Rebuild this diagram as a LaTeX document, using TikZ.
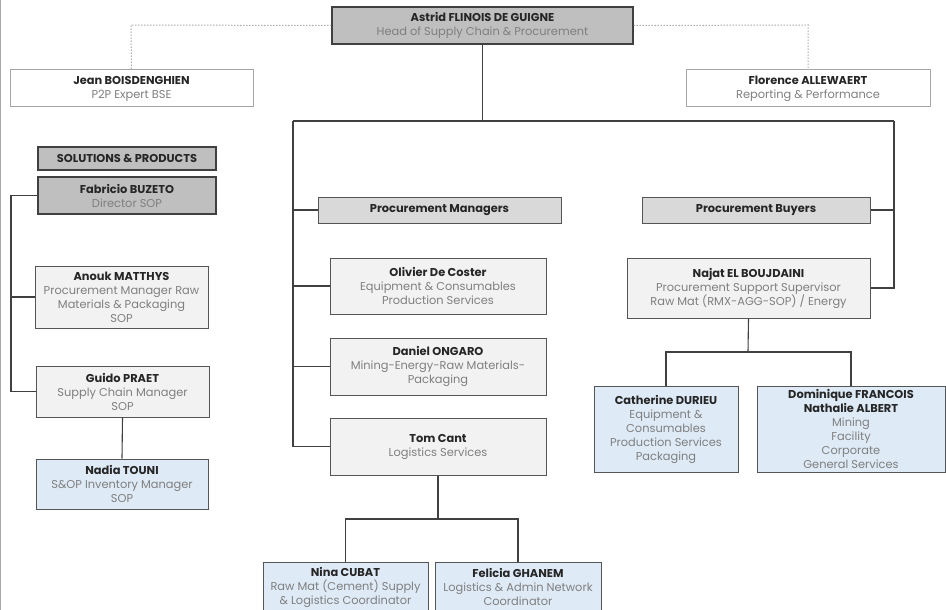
\documentclass[tikz,border=0pt]{standalone}
\usepackage{fontspec}
\setmainfont{Poppins}
\definecolor{linec}{HTML}{404040}
\definecolor{boxborder}{HTML}{555555}
\definecolor{darkfill}{HTML}{BFBFBF}
\definecolor{midfill}{HTML}{D9D9D9}
\definecolor{lightfill}{HTML}{F2F2F2}
\definecolor{bluefill}{HTML}{DEEAF6}
\definecolor{subgray}{HTML}{7F7F7F}
\definecolor{namec}{HTML}{262626}
\newcommand{\nm}[1]{{\color{namec}\bfseries #1}}
\newcommand{\sbt}[1]{{\color{subgray}#1}}
\tikzset{
  box/.style={draw=boxborder, line width=1pt, align=center, inner sep=1pt,
     font=\fontsize{11.4}{14}\selectfont, text=namec},
  dark/.style={box, fill=darkfill, line width=1.2pt, draw=linec},
  mid/.style={box, fill=midfill},
  light/.style={box, fill=lightfill},
  blue/.style={box, fill=bluefill},
  white/.style={box, fill=white, draw=gray!70},
  conn/.style={draw=linec, line width=1.1pt},
  dotc/.style={draw=gray, line width=1pt, dotted},
}
\newcommand{\bx}[7]{% style, name, x1, y1, x2, y2, text
  \node[#1, minimum width={#5-#3}, minimum height={#6-#4}] (#2) at ({(#3+#5)/2},{(#4+#6)/2}) {#7};}
\begin{document}
\begin{tikzpicture}[x=1pt,y=-1pt]
\useasboundingbox (0,0) rectangle (946,610);
\fill[white] (0,0) rectangle (946,610);
% nodes
\bx{dark}{astrid}{332}{7}{633}{44}{\nm{Astrid FLINOIS DE GUIGNE}\\\sbt{Head of Supply Chain \& Procurement}}
\bx{white}{jean}{10}{70}{253}{107}{\nm{Jean BOISDENGHIEN}\\\sbt{P2P Expert BSE}}
\bx{white}{florence}{686}{70}{930}{107}{\nm{Florence ALLEWAERT}\\\sbt{Reporting \& Performance}}
\bx{dark}{sp}{38}{147}{216}{170}{\nm{SOLUTIONS \& PRODUCTS}}
\bx{dark}{fabricio}{38}{177}{216}{214}{\nm{Fabricio BUZETO}\\\sbt{Director SOP}}
\bx{light}{anouk}{35}{266}{208}{328}{\nm{Anouk MATTHYS}\\\sbt{Procurement Manager Raw}\\\sbt{Materials \& Packaging}\\\sbt{SOP}}
\bx{light}{guido}{36}{366}{209}{417}{\nm{Guido PRAET}\\\sbt{Supply Chain Manager}\\\sbt{SOP}}
\bx{blue}{nadia}{36}{459}{208}{509}{\nm{Nadia TOUNI}\\\sbt{S\&OP Inventory Manager}\\\sbt{SOP}}
\bx{mid}{pm}{318}{197}{561}{223}{\nm{Procurement Managers}}
\bx{light}{olivier}{330}{258}{546}{314}{\nm{Olivier De Coster}\\\sbt{Equipment \& Consumables}\\\sbt{Production Services}}
\bx{light}{daniel}{330}{338}{546}{395}{\nm{Daniel ONGARO}\\\sbt{Mining-Energy-Raw Materials-}\\\sbt{Packaging}}
\bx{light}{tom}{330}{418}{546}{475}{\nm{Tom Cant}\\\sbt{Logistics Services}}
\bx{blue}{nina}{263}{562}{428}{612}{\nm{Nina CUBAT}\\\sbt{Raw Mat (Cement) Supply}\\\sbt{\& Logistics Coordinator}}
\bx{blue}{felicia}{435}{562}{601}{612}{\nm{Felicia GHANEM}\\\sbt{Logistics \& Admin Network}\\\sbt{Coordinator}}
\bx{mid}{pb}{642}{197}{870}{223}{\nm{Procurement Buyers}}
\bx{light}{najat}{627}{258}{870}{318}{\nm{Najat EL BOUJDAINI}\\\sbt{Procurement Support Supervisor}\\\sbt{Raw Mat (RMX-AGG-SOP) / Energy}}
\bx{blue}{catherine}{594}{386}{738}{472}{\nm{Catherine DURIEU}\\\sbt{Equipment \&}\\\sbt{Consumables}\\\sbt{Production Services}\\\sbt{Packaging}}
\bx{blue}{dominique}{757}{386}{945}{472}{\nm{Dominique FRANCOIS}\\\nm{Nathalie ALBERT}\\\sbt{Mining}\\\sbt{Facility}\\\sbt{Corporate}\\\sbt{General Services}}
% dotted connectors
\coordinate (dl) at (131,25);
\coordinate (dr) at (808,25);
\draw[dotc] (astrid.west) -- (dl) -- (jean.north);
\draw[dotc] (astrid.east) -- (dr) -- (florence.north);
% main tree
\coordinate (hl) at (293,121);
\coordinate (hr) at (894,121);
\draw[conn] (astrid.south) -- (astrid.south |- hl);
\draw[conn] (hl) -- (hr);
\draw[conn] (hl) -- (hl |- tom.west) -- (tom.west);
\draw[conn] (hl |- pm.west) -- (pm.west);
\draw[conn] (hl |- olivier.west) -- (olivier.west);
\draw[conn] (hl |- daniel.west) -- (daniel.west);
\draw[conn] (hr) -- (hr |- najat.east) -- (najat.east);
\draw[conn] (hr |- pb.east) -- (pb.east);
% SOP tree
\coordinate (sl) at (11,0);
\draw[conn] (fabricio.west) -- (sl |- fabricio.west) -- (sl |- guido.west) -- (guido.west);
\draw[conn] (sl |- anouk.west) -- (anouk.west);
\draw[conn] (guido.south) -- (nadia.north);
% Tom children
\coordinate (tj) at (438,519);
\draw[conn] (tom.south) -- (tj);
\draw[conn] (nina.north) -- (nina.north |- tj) -- (felicia.north |- tj) -- (felicia.north);
% Najat children
\coordinate (nj) at (748,352);
\draw[conn] (najat.south) -- (nj);
\draw[conn] (catherine.north) -- (catherine.north |- nj) -- (dominique.north |- nj) -- (dominique.north);
\end{tikzpicture}
\end{document}
